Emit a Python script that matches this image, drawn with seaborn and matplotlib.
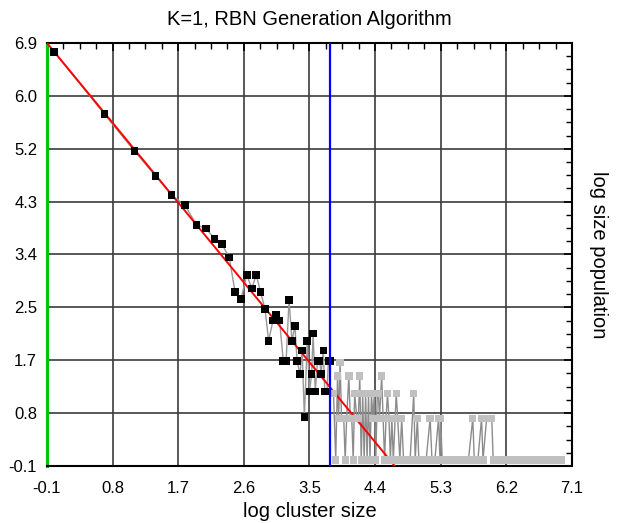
import matplotlib
matplotlib.use("Agg")
import matplotlib.pyplot as plt
from matplotlib.ticker import AutoMinorLocator
import seaborn as sns
import pandas as pd

# log(size) / log(count) for the clusters left of the cut (black)
black_x = [0.00, 0.69, 1.10, 1.39, 1.61, 1.79, 1.95, 2.08, 2.20, 2.30, 2.40,
           2.48, 2.56, 2.64, 2.71, 2.77, 2.83, 2.89, 2.94, 3.00, 3.04, 3.09,
           3.14, 3.18, 3.22, 3.26, 3.30, 3.33, 3.37, 3.40, 3.43, 3.47, 3.50,
           3.53, 3.55, 3.58, 3.61, 3.64, 3.66, 3.69, 3.71, 3.74, 3.76, 3.78]
black_y = [6.75, 5.72, 5.11, 4.70, 4.38, 4.22, 3.89, 3.83, 3.66, 3.57, 3.35,
           2.78, 2.66, 3.06, 2.84, 3.06, 2.78, 2.50, 1.97, 2.31, 2.40, 2.31,
           1.64, 1.64, 2.65, 1.97, 2.22, 1.64, 1.42, 1.81, 0.71, 1.97, 1.13,
           1.42, 2.09, 1.13, 1.64, 1.64, 1.42, 1.81, 1.13, 1.13, 1.64, 1.64]

# clusters right of the cut (grey)
gray_x = [3.83, 3.86, 3.885, 3.90, 3.92, 3.94, 3.97, 3.99, 4.01, 4.04, 4.06,
          4.08, 4.10, 4.12, 4.15, 4.17, 4.19, 4.21, 4.23, 4.25, 4.27, 4.29,
          4.31, 4.33, 4.35, 4.37, 4.39, 4.41, 4.43, 4.445, 4.46, 4.49, 4.51,
          4.53, 4.55, 4.57, 4.59, 4.61, 4.63, 4.65, 4.69, 4.71, 4.74, 4.765,
          4.79, 4.83, 4.88, 4.93, 4.95, 4.98, 5.00, 5.05, 5.10, 5.155, 5.18,
          5.22, 5.27, 5.29, 5.30, 5.32, 5.38, 5.44, 5.50, 5.56, 5.62, 5.68,
          5.74, 5.76, 5.81, 5.86, 5.88, 5.93, 5.96, 6.00, 6.02, 6.08, 6.14,
          6.20, 6.26, 6.32, 6.38, 6.43, 6.48, 6.54, 6.60, 6.66, 6.72, 6.78,
          6.84, 6.90, 6.95]
gray_y = [1.10, 0.00, 1.39, 0.69, 1.61, 0.69, 0.69, 0.00, 0.69, 1.39, 0.69,
          0.69, 0.00, 1.10, 0.69, 0.69, 1.39, 0.00, 1.10, 0.00, 1.10, 0.00,
          1.10, 0.00, 1.10, 0.69, 1.10, 0.00, 1.10, 1.10, 0.69, 1.39, 0.69,
          0.00, 0.69, 1.10, 0.69, 0.00, 0.69, 0.00, 1.10, 0.69, 0.00, 0.69,
          0.00, 0.00, 0.00, 1.10, 0.00, 0.69, 0.00, 0.00, 0.00, 0.69, 0.00,
          0.00, 0.69, 0.00, 0.69, 0.00, 0.00, 0.00, 0.00, 0.00, 0.00, 0.00,
          0.69, 0.00, 0.00, 0.69, 0.00, 0.69, 0.69, 0.69, 0.00, 0.00, 0.00,
          0.00, 0.00, 0.00, 0.00, 0.00, 0.00, 0.00, 0.00, 0.00, 0.00, 0.00,
          0.00, 0.00, 0.00]

# power law fit and cut-off
fit_x = [-0.1, 4.67]
fit_y = [6.9, -0.1]
cutoff_x = 3.78

xtick_values = [-0.1, 0.8, 1.7, 2.6, 3.5, 4.4, 5.3, 6.2, 7.1]
xtick_labels = ["-0.1", "0.8", "1.7", "2.6", "3.5", "4.4", "5.3", "6.2", "7.1"]
ytick_values = [-0.1, 0.775, 1.65, 2.525, 3.4, 4.275, 5.15, 6.025, 6.9]
ytick_labels = ["-0.1", "0.8", "1.7", "2.5", "3.4", "4.3", "5.2", "6.0", "6.9"]

sns.set_style("white", rc={"text.color": "black", "axes.labelcolor": "black"})
plt.rcParams['font.family'] = ['Liberation Sans', 'DejaVu Sans']

fig = plt.figure(figsize=(6.18, 5.23), dpi=100)
ax = fig.add_axes([0.076, 0.109, 0.8495, 0.8088])

df_black = pd.DataFrame({"x": black_x, "y": black_y})
df_gray = pd.DataFrame({"x": gray_x, "y": gray_y})
df_fit = pd.DataFrame({"x": fit_x, "y": fit_y})

sns.lineplot(data=df_black, x="x", y="y", sort=False, estimator=None,
             color="#999999", linewidth=1.0, ax=ax, zorder=3)
sns.lineplot(data=df_gray, x="x", y="y", sort=False, estimator=None,
             color="#8c8c8c", linewidth=1.0, ax=ax, zorder=3)
sns.lineplot(data=df_fit, x="x", y="y", sort=False, estimator=None,
             color="#ff0000", linewidth=1.4, ax=ax, zorder=4)
sns.scatterplot(data=df_gray, x="x", y="y", marker="s", s=28, color="#c0c0c0",
                edgecolor="none", ax=ax, zorder=5)
sns.scatterplot(data=df_black, x="x", y="y", marker="s", s=30, color="black",
                edgecolor="none", ax=ax, zorder=5)
ax.axvline(cutoff_x, color="#0000ff", linewidth=1.6, zorder=6)

ax.set_xlim(-0.1, 7.1)
ax.set_ylim(-0.1, 6.9)
ax.set_xticks(xtick_values)
ax.set_xticklabels(xtick_labels)
ax.set_yticks(ytick_values)
ax.set_yticklabels(ytick_labels)
ax.xaxis.set_minor_locator(AutoMinorLocator(4))
ax.yaxis.set_minor_locator(AutoMinorLocator(4))
ax.tick_params(which="both", direction="in", top=True, right=True,
               colors="black", labelsize=12)
ax.tick_params(which="major", length=6, width=1.2)
ax.tick_params(which="minor", length=4, width=1.0)
ax.tick_params(axis="x", pad=11)
ax.tick_params(axis="y", pad=7)

ax.grid(True, which="major", color="#3c3c3c", linewidth=1.2)
ax.set_axisbelow(True)
for side in ["top", "right", "bottom"]:
    ax.spines[side].set_color("black")
    ax.spines[side].set_linewidth(1.5)
ax.spines["left"].set_color("#00c800")
ax.spines["left"].set_linewidth(2.2)

ax.set_title("K=1, RBN Generation Algorithm", fontsize=14.5, pad=13,
             color="black")
ax.set_xlabel("log cluster size", fontsize=14.5, labelpad=4, color="black")
ax.yaxis.set_label_position("right")
ax.set_ylabel("log size population", fontsize=14.5, rotation=270, labelpad=26,
              color="black")

plt.savefig("out.png", dpi=100)
plt.close()
